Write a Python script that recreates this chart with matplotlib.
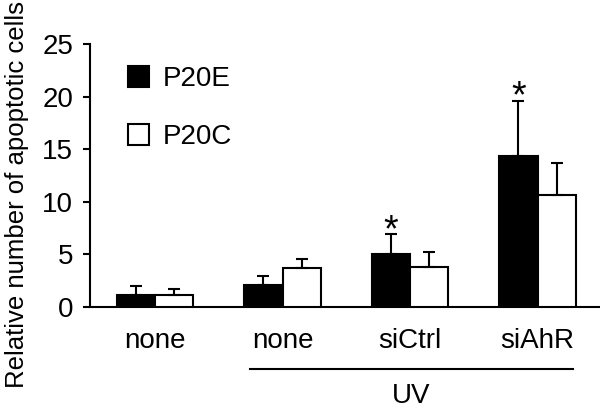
import numpy as np
import matplotlib.pyplot as plt

plt.rcParams['font.family'] = ['Liberation Sans', 'DejaVu Sans']

groups = ['none', 'none', 'siCtrl', 'siAhR']
p20e = [1.1, 2.1, 5.0, 14.35]
p20e_err = [0.9, 0.85, 1.9, 5.25]
p20c = [1.1, 3.7, 3.8, 10.6]
p20c_err = [0.6, 0.85, 1.4, 3.1]
signif = [False, False, True, True]

fig = plt.figure(figsize=(6, 4.09), dpi=100)
ax = fig.add_axes([0.15, 0.2494, 0.85, 0.643])

x = np.arange(len(groups))
w = 0.3
ekw = dict(elinewidth=1.5, capsize=4.5, capthick=1.5, ecolor='black')
ax.bar(x - w / 2, p20e, w, color='black', edgecolor='black', linewidth=1.5,
       yerr=[np.zeros(4), p20e_err], error_kw=ekw, label='P20E', zorder=3)
ax.bar(x + w / 2, p20c, w, color='white', edgecolor='black', linewidth=1.5,
       yerr=[np.zeros(4), p20c_err], error_kw=ekw, label='P20C', zorder=3)

# significance stars just above the error caps
for i in range(len(groups)):
    if signif[i]:
        ax.annotate('*', xy=(x[i] - w / 2, p20e[i] + p20e_err[i]), xytext=(0, -5),
                    textcoords='offset points', ha='center', va='baseline', fontsize=27)

ax.set_xlim(-0.51, 3.49)
ax.set_ylim(0, 25)
ax.set_yticks([0, 5, 10, 15, 20, 25])
ax.set_xticks(x)
ax.set_xticklabels(groups)
ax.tick_params(axis='y', labelsize=20, length=5, width=1.5, pad=7)
ax.tick_params(axis='x', labelsize=20, length=0, pad=15)
for s in ['top', 'right']:
    ax.spines[s].set_visible(False)
ax.spines['left'].set_linewidth(1.5)
ax.spines['bottom'].set_linewidth(1.5)

ax.set_ylabel('Relative number of apoptotic cells', fontsize=18.5)
ax.yaxis.set_label_coords(-0.12, 0.426)

ax.legend(loc='upper left', bbox_to_anchor=(0.0745, 0.916), frameon=False, fontsize=20,
          borderpad=0, borderaxespad=0, handlelength=0.75, handleheight=0.75,
          handletextpad=0.5, labelspacing=1.15)

# UV bracket under treated groups
trans = ax.get_xaxis_transform()
ax.plot([0.745, 3.28], [-0.236, -0.236], color='black', lw=1.5, transform=trans,
        clip_on=False)
ax.text(2.01, -0.366, 'UV', ha='center', va='baseline', fontsize=20, transform=trans)

fig.savefig('out.png', dpi=100)
